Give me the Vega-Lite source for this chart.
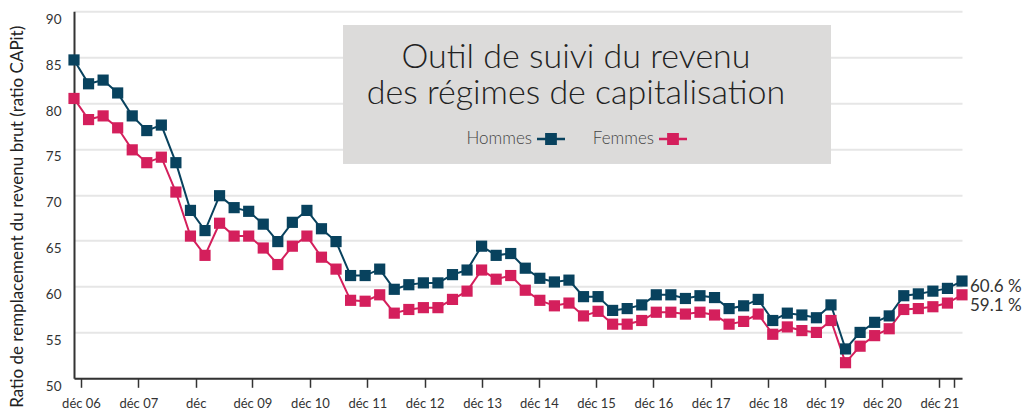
{
  "$schema": "https://vega.github.io/schema/vega-lite/v6.json",
  "width": 888,
  "height": 367,
  "autosize": {"type": "none"},
  "padding": {"left": 74, "top": 11.3, "right": 67, "bottom": 33.7},
  "background": "white",
  "config": {"view": {"stroke": null}, "font": "Lato"},
  "data": {"values": [
    {"q": 0, "Hommes": 84.7, "Femmes": 80.5},
    {"q": 1, "Hommes": 82.1, "Femmes": 78.2},
    {"q": 2, "Hommes": 82.5, "Femmes": 78.6},
    {"q": 3, "Hommes": 81.1, "Femmes": 77.3},
    {"q": 4, "Hommes": 78.6, "Femmes": 74.9},
    {"q": 5, "Hommes": 77.0, "Femmes": 73.5},
    {"q": 6, "Hommes": 77.6, "Femmes": 74.1},
    {"q": 7, "Hommes": 73.5, "Femmes": 70.3},
    {"q": 8, "Hommes": 68.3, "Femmes": 65.5},
    {"q": 9, "Hommes": 66.1, "Femmes": 63.4},
    {"q": 10, "Hommes": 69.9, "Femmes": 66.9},
    {"q": 11, "Hommes": 68.6, "Femmes": 65.5},
    {"q": 12, "Hommes": 68.2, "Femmes": 65.5},
    {"q": 13, "Hommes": 66.8, "Femmes": 64.2},
    {"q": 14, "Hommes": 64.9, "Femmes": 62.4},
    {"q": 15, "Hommes": 67.0, "Femmes": 64.4},
    {"q": 16, "Hommes": 68.3, "Femmes": 65.5},
    {"q": 17, "Hommes": 66.3, "Femmes": 63.2},
    {"q": 18, "Hommes": 64.9, "Femmes": 61.9},
    {"q": 19, "Hommes": 61.2, "Femmes": 58.5},
    {"q": 20, "Hommes": 61.2, "Femmes": 58.4},
    {"q": 21, "Hommes": 61.9, "Femmes": 59.1},
    {"q": 22, "Hommes": 59.7, "Femmes": 57.1},
    {"q": 23, "Hommes": 60.2, "Femmes": 57.5},
    {"q": 24, "Hommes": 60.4, "Femmes": 57.7},
    {"q": 25, "Hommes": 60.4, "Femmes": 57.7},
    {"q": 26, "Hommes": 61.3, "Femmes": 58.6},
    {"q": 27, "Hommes": 61.8, "Femmes": 59.5},
    {"q": 28, "Hommes": 64.4, "Femmes": 61.8},
    {"q": 29, "Hommes": 63.4, "Femmes": 60.8},
    {"q": 30, "Hommes": 63.6, "Femmes": 61.2},
    {"q": 31, "Hommes": 62.0, "Femmes": 59.6},
    {"q": 32, "Hommes": 60.9, "Femmes": 58.5},
    {"q": 33, "Hommes": 60.5, "Femmes": 57.9},
    {"q": 34, "Hommes": 60.7, "Femmes": 58.2},
    {"q": 35, "Hommes": 58.9, "Femmes": 56.8},
    {"q": 36, "Hommes": 58.9, "Femmes": 57.3},
    {"q": 37, "Hommes": 57.4, "Femmes": 55.9},
    {"q": 38, "Hommes": 57.6, "Femmes": 55.9},
    {"q": 39, "Hommes": 58.0, "Femmes": 56.3},
    {"q": 40, "Hommes": 59.1, "Femmes": 57.2},
    {"q": 41, "Hommes": 59.1, "Femmes": 57.2},
    {"q": 42, "Hommes": 58.7, "Femmes": 57.0},
    {"q": 43, "Hommes": 59.0, "Femmes": 57.2},
    {"q": 44, "Hommes": 58.8, "Femmes": 56.9},
    {"q": 45, "Hommes": 57.6, "Femmes": 55.9},
    {"q": 46, "Hommes": 57.9, "Femmes": 56.2},
    {"q": 47, "Hommes": 58.6, "Femmes": 57.0},
    {"q": 48, "Hommes": 56.3, "Femmes": 54.8},
    {"q": 49, "Hommes": 57.1, "Femmes": 55.6},
    {"q": 50, "Hommes": 56.9, "Femmes": 55.2},
    {"q": 51, "Hommes": 56.6, "Femmes": 55.0},
    {"q": 52, "Hommes": 58.0, "Femmes": 56.3},
    {"q": 53, "Hommes": 53.2, "Femmes": 51.7},
    {"q": 54, "Hommes": 55.0, "Femmes": 53.5},
    {"q": 55, "Hommes": 56.1, "Femmes": 54.65},
    {"q": 56, "Hommes": 56.8, "Femmes": 55.4},
    {"q": 57, "Hommes": 59.0, "Femmes": 57.5},
    {"q": 58, "Hommes": 59.2, "Femmes": 57.6},
    {"q": 59, "Hommes": 59.5, "Femmes": 57.8},
    {"q": 60, "Hommes": 59.8, "Femmes": 58.2},
    {"q": 61, "Hommes": 60.6, "Femmes": 59.1}
  ]},
  "transform": [{"fold": ["Hommes", "Femmes"], "as": ["sexe", "ratio"]}],
  "encoding": {
    "x": {
      "field": "q", "type": "quantitative",
      "scale": {"domain": [0, 61], "nice": false, "zero": false},
      "axis": {
        "title": null,
        "values": [0.48, 4.42, 8.36, 12.25, 16.21, 20.15, 24.09, 28.03, 31.94, 35.86, 39.8, 43.74, 47.67, 51.59, 55.5, 59.44, 60.45],
        "labelExpr": "datum.value > 60 ? '' : ['déc 06','déc 07','déc','déc 09','déc 10','déc 11','déc 12','déc 13','déc 14','déc 15','déc 16','déc 17','déc 18','déc 19','déc 20','déc 21'][round((datum.value - 0.48) / 3.93)]",
        "grid": false,
        "domainColor": "#333333", "domainWidth": 2,
        "tickColor": "#333333", "tickWidth": 1.5, "tickSize": 9,
        "labelFont": "Lato", "labelFontSize": 13, "labelColor": "#333333", "labelPadding": 10,
        "labelFlush": false, "labelOverlap": false
      }
    },
    "y": {
      "field": "ratio", "type": "quantitative",
      "scale": {"domain": [50, 90], "nice": false, "zero": false},
      "axis": {
        "values": [50, 55, 60, 65, 70, 75, 80, 85, 90],
        "grid": true, "gridColor": "#e6e6e6", "gridWidth": 2,
        "ticks": false,
        "domainColor": "#333333", "domainWidth": 2,
        "labelFont": "Lato", "labelFontSize": 13.5, "labelColor": "#333333", "labelPadding": 13, "labelOffset": 8,
        "title": "Ratio de remplacement du revenu brut (ratio CAPit)",
        "titleFont": "Lato", "titleFontSize": 17, "titleFontWeight": "normal", "titleColor": "#222222",
        "titleX": -57, "titleY": 205, "titleAngle": 270, "titleAlign": "center", "titleBaseline": "middle"
      }
    }
  },
  "layer": [
    {
      "mark": {"type": "rect", "color": "#dcdbda"},
      "encoding": {
        "x": {"datum": 18.5, "type": "quantitative"},
        "x2": {"datum": 52.0},
        "y": {"datum": 88.51, "type": "quantitative"},
        "y2": {"datum": 73.43}
      }
    },
    {
      "mark": {"type": "line", "strokeWidth": 2},
      "encoding": {
        "color": {
          "field": "sexe", "type": "nominal",
          "scale": {"domain": ["Hommes", "Femmes"], "range": ["#08425e", "#d41f5c"]},
          "legend": {
            "orient": "none", "legendX": 277, "legendY": 13.7,
            "direction": "horizontal",
            "title": ["Outil de suivi du revenu", "des régimes de capitalisation"],
            "titleFont": "Lato", "titleFontWeight": 300, "titleFontSize": 34, "titleLineHeight": 36, "titleLimit": 2000,
            "titleColor": "#222222", "titleAnchor": "middle", "titleAlign": "center", "titlePadding": 14,
            "padding": 16,
            "labelFont": "Lato", "labelFontSize": 17, "labelFontWeight": 300, "labelColor": "#444444",
            "labelAlign": "right", "labelOffset": -33, "labelLimit": 500,
            "symbolType": "M-1,-0.09H1V0.09H-1Z M-0.42,-0.42H0.42V0.42H-0.42Z",
            "symbolSize": 784, "symbolStrokeWidth": 0, "symbolOffset": 72,
            "columnPadding": 22,
            "encode": {"symbols": {"update": {"fill": {"scale": "color", "field": "value"}, "opacity": {"value": 1}}}}
          }
        }
      }
    },
    {
      "mark": {"type": "square", "size": 125, "opacity": 1, "filled": true},
      "encoding": {"color": {"field": "sexe", "type": "nominal"}}
    },
    {
      "transform": [
        {"filter": "datum.q == 61 && datum.sexe == 'Hommes'"},
        {"calculate": "format(datum.ratio, '.1f') + ' %'", "as": "lab"}
      ],
      "mark": {"type": "text", "align": "left", "baseline": "middle", "dx": 8, "dy": 6, "fontSize": 17, "font": "Lato", "color": "#333333"},
      "encoding": {"text": {"field": "lab"}}
    },
    {
      "transform": [
        {"filter": "datum.q == 61 && datum.sexe == 'Femmes'"},
        {"calculate": "format(datum.ratio, '.1f') + ' %'", "as": "lab"}
      ],
      "mark": {"type": "text", "align": "left", "baseline": "middle", "dx": 8, "dy": 11.5, "fontSize": 17, "font": "Lato", "color": "#333333"},
      "encoding": {"text": {"field": "lab"}}
    }
  ]
}
